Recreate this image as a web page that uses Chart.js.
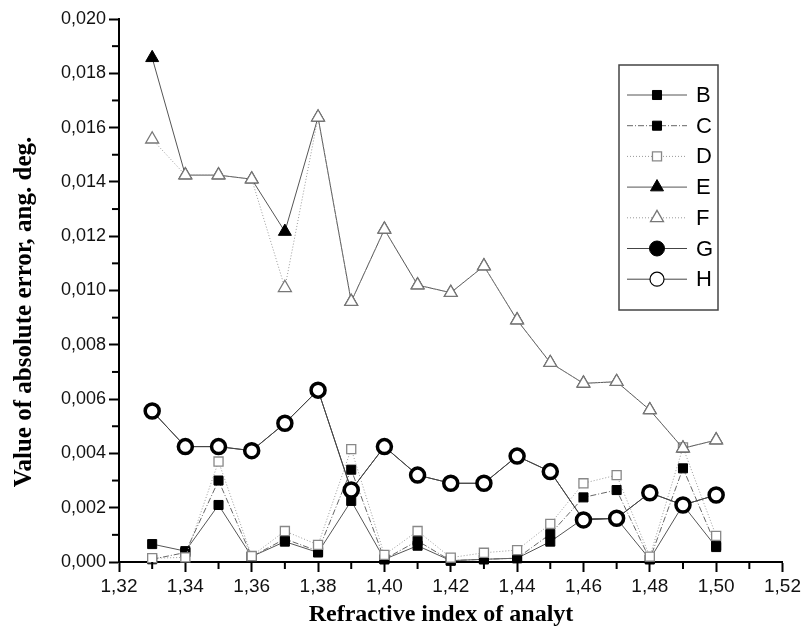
<!DOCTYPE html>
<html>
<head>
<meta charset="utf-8">
<script src="https://cdn.jsdelivr.net/npm/chart.js@4.4.1/dist/chart.umd.min.js"></script>
<style>
  html, body { margin: 0; padding: 0; background: #fff; }
  #wrap { width: 804px; height: 639px; }
</style>
</head>
<body>
<div id="wrap"><canvas id="chart" width="804" height="639"></canvas></div>
<script>
// refractive index values (x)
const refractive = [1.33, 1.34, 1.35, 1.36, 1.37, 1.38, 1.39, 1.40, 1.41,
                    1.42, 1.43, 1.44, 1.45, 1.46, 1.47, 1.48, 1.49, 1.50];

const seriesB = [0.00066, 0.0004, 0.0021, 0.0002, 0.00075, 0.00035, 0.00225, 0.0001, 0.0006,
                 0.00005, 0.0001, 0.00014, 0.00075, 0.0016, 0.0016, 0.0001, 0.0021, 0.00055];
const seriesC = [0.0001, 0.00035, 0.0030, 0.0002, 0.00085, 0.0004, 0.0034, 0.0001, 0.00078,
                 0.00005, 0.0001, 0.00014, 0.00103, 0.00238, 0.00265, 0.0001, 0.00345, 0.0006];
const seriesD = [0.00014, 0.00017, 0.0037, 0.00022, 0.00114, 0.00063, 0.00416, 0.00026, 0.00114,
                 0.00016, 0.00034, 0.00044, 0.0014, 0.0029, 0.0032, 0.0002, 0.00422, 0.00096];
const seriesE = [0.01857, 0.01425, 0.01425, 0.0141, 0.01217, 0.01638, 0.00959, 0.01225, 0.0102,
                 0.00992, 0.0109, 0.00891, 0.00734, 0.00658, 0.00664, 0.0056, 0.00419, 0.00449];
const seriesF = [0.01557, 0.01425, 0.01425, 0.0141, 0.0101, 0.01638, 0.00959, 0.01225, 0.0102,
                 0.00992, 0.0109, 0.00891, 0.00734, 0.00658, 0.00664, 0.0056, 0.00419, 0.00449];
const seriesG = [0.00556, 0.00425, 0.00425, 0.0041, 0.00511, 0.00633, 0.00265, 0.00425, 0.0032,
                 0.0029, 0.0029, 0.0039, 0.00333, 0.00155, 0.00161, 0.00255, 0.0021, 0.00247];
const seriesH = seriesG.slice();

const seriesNames = ['B', 'C', 'D', 'E', 'F', 'G', 'H'];
const xTitle = 'Refractive index of analyt';
const yTitle = 'Value of absolute error, ang. deg.';

function toPoints(values) {
    return values.map((v, i) => ({ x: refractive[i], y: v }));
}

function makeSet(label, values, style) {
    return Object.assign({
        label: label,
        data: toPoints(values),
        borderWidth: 1,
        pointBorderWidth: 1,
        pointRadius: 6.4,
        clip: false
    }, style);
}

const datasets = [
    makeSet('B', seriesB, { borderColor: '#555', pointStyle: 'rect', pointBackgroundColor: '#000', pointBorderColor: '#000' }),
    makeSet('C', seriesC, { borderColor: '#666', borderDash: [6, 2, 1, 2], pointStyle: 'rect', pointBackgroundColor: '#000', pointBorderColor: '#000' }),
    makeSet('D', seriesD, { borderColor: '#999', borderDash: [1, 2], pointStyle: 'rect', pointBackgroundColor: '#fff', pointBorderColor: '#888', pointBorderWidth: 1.3 }),
    makeSet('E', seriesE, { borderColor: '#555', pointStyle: 'triangle', pointRadius: 7.5, pointBackgroundColor: '#000', pointBorderColor: '#000' }),
    makeSet('F', seriesF, { borderColor: '#999', borderDash: [1, 2], pointStyle: 'triangle', pointRadius: 7.5, pointBackgroundColor: '#fff', pointBorderColor: '#777', pointBorderWidth: 1.3 }),
    makeSet('G', seriesG, { borderColor: '#444', pointStyle: 'circle', pointRadius: 7.5, pointBackgroundColor: '#000', pointBorderColor: '#000' }),
    makeSet('H', seriesH, { borderColor: '#444', pointStyle: 'circle', pointRadius: 7, pointBackgroundColor: '#fff', pointBorderColor: '#000', pointBorderWidth: 3.5 })
];
// later series drawn on top
datasets.forEach((d, i) => { d.order = datasets.length - i; });

function isMajor(value, step) {
    return Math.round(value / step) % 2 === 0;
}

// shorter minor tick marks
const minorTicks = {
    id: 'minorTicks',
    afterDraw(chart) {
        const ctx = chart.ctx;
        const xs = chart.scales.x, ys = chart.scales.y;
        ctx.save();
        ctx.strokeStyle = '#000';
        ctx.lineWidth = 2;
        xs.ticks.forEach(t => {
            if (isMajor(t.value, 0.01)) return;
            const px = xs.getPixelForValue(t.value);
            ctx.beginPath(); ctx.moveTo(px, xs.top); ctx.lineTo(px, xs.top + 7); ctx.stroke();
        });
        ys.ticks.forEach(t => {
            if (isMajor(t.value, 0.001)) return;
            const py = ys.getPixelForValue(t.value);
            ctx.beginPath(); ctx.moveTo(ys.right, py); ctx.lineTo(ys.right - 7, py); ctx.stroke();
        });
        ctx.restore();
    }
};

function drawMarker(ctx, ds, x, y) {
    ctx.save();
    ctx.fillStyle = ds.pointBackgroundColor;
    ctx.strokeStyle = ds.pointBorderColor;
    ctx.lineWidth = ds.label === 'H' ? 1.2 : ds.pointBorderWidth;
    ctx.setLineDash([]);
    if (Chart.helpers && Chart.helpers.drawPoint) {
        Chart.helpers.drawPoint(ctx, { pointStyle: ds.pointStyle, radius: ds.pointRadius, borderWidth: ctx.lineWidth, rotation: 0 }, x, y);
    }
    ctx.restore();
}

// boxed legend inside the plot, as in the original figure
const boxLegend = {
    id: 'boxLegend',
    afterDraw(chart) {
        const ctx = chart.ctx;
        const left = 619, top = 65, w = 99, h = 245;
        ctx.save();
        ctx.fillStyle = '#fff';
        ctx.fillRect(left, top, w, h);
        ctx.strokeStyle = '#444';
        ctx.lineWidth = 1.5;
        ctx.strokeRect(left, top, w, h);
        chart.data.datasets.forEach((ds, i) => {
            const y = 95 + i * 30.7;
            ctx.save();
            ctx.strokeStyle = ds.borderColor;
            ctx.lineWidth = 1;
            ctx.setLineDash(ds.borderDash || []);
            ctx.beginPath(); ctx.moveTo(627, y); ctx.lineTo(687, y); ctx.stroke();
            ctx.restore();
            drawMarker(ctx, ds, 657, y);
            ctx.fillStyle = '#000';
            ctx.font = '22px "Liberation Sans", Arial, sans-serif';
            ctx.textAlign = 'left';
            ctx.textBaseline = 'middle';
            ctx.fillText(seriesNames[i], 696, y + 1);
        });
        ctx.restore();
    }
};

// axis titles placed like the source figure
const axisTitles = {
    id: 'axisTitles',
    afterDraw(chart) {
        const ctx = chart.ctx;
        ctx.save();
        ctx.fillStyle = '#000';
        ctx.font = 'bold 24px "Liberation Serif", "Times New Roman", serif';
        ctx.textAlign = 'center';
        ctx.textBaseline = 'middle';
        ctx.fillText(xTitle, 441, 615);
        ctx.translate(25, 312);
        ctx.rotate(-Math.PI / 2);
        ctx.font = 'bold 25px "Liberation Serif", "Times New Roman", serif';
        ctx.fillText(yTitle, 0, 0);
        ctx.restore();
    }
};

new Chart(document.getElementById('chart'), {
    type: 'line',
    data: { datasets: datasets },
    options: {
        responsive: false,
        animation: false,
        layout: { padding: { top: 19, right: 21, left: 0, bottom: 0 } },
        scales: {
            x: {
                type: 'linear',
                min: 1.32,
                max: 1.52,
                afterFit: s => { s.height = 77; },
                border: { display: true, color: '#000', width: 2 },
                grid: {
                    drawOnChartArea: false,
                    tickLength: 10,
                    tickWidth: 2,
                    tickColor: c => (c.tick && isMajor(c.tick.value, 0.01)) ? '#000' : 'rgba(0,0,0,0)'
                },
                ticks: {
                    stepSize: 0.01,
                    autoSkip: false,
                    maxRotation: 0,
                    padding: 3,
                    color: '#111',
                    font: { family: '"Liberation Sans", Arial, sans-serif', size: 19 },
                    callback: v => isMajor(v, 0.01) ? v.toFixed(2).replace('.', ',') : ''
                }
            },
            y: {
                min: 0,
                max: 0.02,
                afterFit: s => { s.width = 119; },
                border: { display: true, color: '#000', width: 2 },
                grid: {
                    drawOnChartArea: false,
                    tickLength: 10,
                    tickWidth: 2,
                    tickColor: c => (c.tick && isMajor(c.tick.value, 0.001)) ? '#000' : 'rgba(0,0,0,0)'
                },
                ticks: {
                    stepSize: 0.001,
                    autoSkip: false,
                    padding: 3,
                    color: '#111',
                    font: { family: '"Liberation Sans", Arial, sans-serif', size: 18 },
                    callback: v => isMajor(v, 0.001) ? v.toFixed(3).replace('.', ',') : ''
                }
            }
        },
        plugins: {
            legend: { display: false },
            tooltip: { enabled: false }
        }
    },
    plugins: [minorTicks, boxLegend, axisTitles]
});
</script>
</body>
</html>
